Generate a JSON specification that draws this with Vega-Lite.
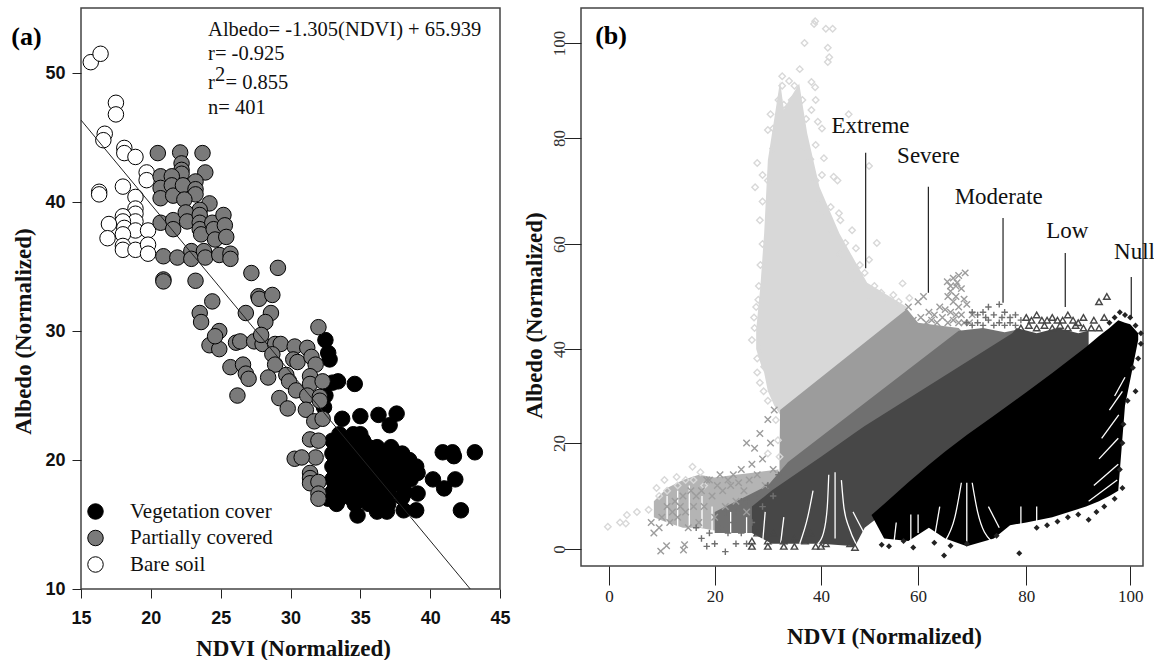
{"$schema":"https://vega.github.io/schema/vega-lite/v6.json","background":"white","padding":{"left":10,"top":7,"right":0,"bottom":0},"bounds":"flush","spacing":81,"config":{"view":{"stroke":"#444","strokeWidth":1.5},"axis":{"grid":false,"domain":false,"tickColor":"#222"}},"datasets":{"pa":[
{"c":"Bare soil","x":15.7,"y":50.85},{"c":"Bare soil","x":16.4,"y":51.5},{"c":"Bare soil","x":17.5,"y":47.7},{"c":"Bare soil","x":17.5,"y":46.8},{"c":"Bare soil","x":16.7,"y":45.3},{"c":"Bare soil","x":16.6,"y":44.8},{"c":"Bare soil","x":18.1,"y":44.2},{"c":"Bare soil","x":18.1,"y":43.8},{"c":"Bare soil","x":18.9,"y":43.5},{"c":"Bare soil","x":19.7,"y":42.3},{"c":"Bare soil","x":19.7,"y":41.7},{"c":"Bare soil","x":18.0,"y":41.2},{"c":"Bare soil","x":18.9,"y":40.4},{"c":"Bare soil","x":16.3,"y":40.8},{"c":"Bare soil","x":16.3,"y":40.6},{"c":"Bare soil","x":18.9,"y":39.5},{"c":"Bare soil","x":18.9,"y":39.1},{"c":"Bare soil","x":18.0,"y":38.9},{"c":"Bare soil","x":18.9,"y":38.5},{"c":"Bare soil","x":18.0,"y":38.5},{"c":"Bare soil","x":18.1,"y":38.0},{"c":"Bare soil","x":18.9,"y":37.8},{"c":"Bare soil","x":17.0,"y":38.3},{"c":"Bare soil","x":16.9,"y":37.2},{"c":"Bare soil","x":18.0,"y":37.5},{"c":"Bare soil","x":18.0,"y":36.6},{"c":"Bare soil","x":18.0,"y":36.3},{"c":"Bare soil","x":18.9,"y":36.3},{"c":"Bare soil","x":19.8,"y":37.8},{"c":"Bare soil","x":19.8,"y":36.7},{"c":"Bare soil","x":19.8,"y":36},
{"c":"Vegetation cover","x":32.5,"y":29.3},{"c":"Vegetation cover","x":32.8,"y":27.8},{"c":"Vegetation cover","x":32.7,"y":28.3},{"c":"Vegetation cover","x":33.4,"y":26.1},{"c":"Vegetation cover","x":33,"y":26},{"c":"Vegetation cover","x":34.6,"y":25.9},{"c":"Vegetation cover","x":32.4,"y":24.1},{"c":"Vegetation cover","x":32.5,"y":25},{"c":"Vegetation cover","x":33.7,"y":23.2},{"c":"Vegetation cover","x":35,"y":23.4},{"c":"Vegetation cover","x":36.3,"y":23.5},{"c":"Vegetation cover","x":37.6,"y":23.6},{"c":"Vegetation cover","x":37.1,"y":22.7},{"c":"Vegetation cover","x":40.9,"y":20.6},{"c":"Vegetation cover","x":41.6,"y":20.6},{"c":"Vegetation cover","x":41.7,"y":20.3},{"c":"Vegetation cover","x":43.2,"y":20.6},{"c":"Vegetation cover","x":40.2,"y":18.5},{"c":"Vegetation cover","x":41,"y":17.8},{"c":"Vegetation cover","x":41.8,"y":18.5},{"c":"Vegetation cover","x":42.2,"y":16.1},{"c":"Vegetation cover","x":34.8,"y":15.7},{"c":"Vegetation cover","x":36.2,"y":16},{"c":"Vegetation cover","x":36.9,"y":16},{"c":"Vegetation cover","x":38.1,"y":16.1},{"c":"Vegetation cover","x":39,"y":16.1},{"c":"Vegetation cover","x":39.1,"y":17.4},{"c":"Vegetation cover","x":38,"y":17.1},{"c":"Vegetation cover","x":33.3,"y":16.7},{"c":"Vegetation cover","x":32.7,"y":17},
{"c":"Vegetation cover","x":33.5,"y":22},{"c":"Vegetation cover","x":34.5,"y":22},{"c":"Vegetation cover","x":35,"y":22},{"c":"Vegetation cover","x":33,"y":21.5},{"c":"Vegetation cover","x":33.8,"y":21.5},{"c":"Vegetation cover","x":34.5,"y":21.5},{"c":"Vegetation cover","x":35.2,"y":21.5},{"c":"Vegetation cover","x":33.7,"y":21},{"c":"Vegetation cover","x":34.4,"y":21},{"c":"Vegetation cover","x":35,"y":21},{"c":"Vegetation cover","x":35.6,"y":21},{"c":"Vegetation cover","x":36.2,"y":21},{"c":"Vegetation cover","x":37.2,"y":21},{"c":"Vegetation cover","x":33,"y":20.5},{"c":"Vegetation cover","x":33.8,"y":20.5},{"c":"Vegetation cover","x":34.6,"y":20.5},{"c":"Vegetation cover","x":35.4,"y":20.5},{"c":"Vegetation cover","x":36.2,"y":20.5},{"c":"Vegetation cover","x":37,"y":20.5},{"c":"Vegetation cover","x":37.6,"y":20.5},{"c":"Vegetation cover","x":38,"y":20.5},{"c":"Vegetation cover","x":33.2,"y":20},{"c":"Vegetation cover","x":34,"y":20},{"c":"Vegetation cover","x":34.8,"y":20},{"c":"Vegetation cover","x":35.6,"y":20},{"c":"Vegetation cover","x":36.4,"y":20},{"c":"Vegetation cover","x":37.2,"y":20},{"c":"Vegetation cover","x":38,"y":20},{"c":"Vegetation cover","x":38.5,"y":20},{"c":"Vegetation cover","x":33,"y":19.5},{"c":"Vegetation cover","x":33.8,"y":19.5},{"c":"Vegetation cover","x":34.6,"y":19.5},{"c":"Vegetation cover","x":35.4,"y":19.5},{"c":"Vegetation cover","x":36.2,"y":19.5},{"c":"Vegetation cover","x":37,"y":19.5},{"c":"Vegetation cover","x":37.8,"y":19.5},{"c":"Vegetation cover","x":38.6,"y":19.5},{"c":"Vegetation cover","x":39,"y":19.5},{"c":"Vegetation cover","x":33.2,"y":19},{"c":"Vegetation cover","x":34,"y":19},{"c":"Vegetation cover","x":34.8,"y":19},{"c":"Vegetation cover","x":35.6,"y":19},{"c":"Vegetation cover","x":36.4,"y":19},{"c":"Vegetation cover","x":37.2,"y":19},{"c":"Vegetation cover","x":38,"y":19},{"c":"Vegetation cover","x":38.8,"y":19},{"c":"Vegetation cover","x":39.1,"y":19},{"c":"Vegetation cover","x":33,"y":18.5},{"c":"Vegetation cover","x":33.8,"y":18.5},{"c":"Vegetation cover","x":34.6,"y":18.5},{"c":"Vegetation cover","x":35.4,"y":18.5},{"c":"Vegetation cover","x":36.2,"y":18.5},{"c":"Vegetation cover","x":37,"y":18.5},{"c":"Vegetation cover","x":37.8,"y":18.5},{"c":"Vegetation cover","x":38.6,"y":18.5},{"c":"Vegetation cover","x":33.2,"y":18},{"c":"Vegetation cover","x":34,"y":18},{"c":"Vegetation cover","x":34.8,"y":18},{"c":"Vegetation cover","x":35.6,"y":18},{"c":"Vegetation cover","x":36.4,"y":18},{"c":"Vegetation cover","x":37.2,"y":18},{"c":"Vegetation cover","x":38,"y":18},{"c":"Vegetation cover","x":33,"y":17.5},{"c":"Vegetation cover","x":33.8,"y":17.5},{"c":"Vegetation cover","x":34.6,"y":17.5},{"c":"Vegetation cover","x":35.4,"y":17.5},{"c":"Vegetation cover","x":36.2,"y":17.5},{"c":"Vegetation cover","x":37,"y":17.5},{"c":"Vegetation cover","x":38.2,"y":17.5},{"c":"Vegetation cover","x":33.5,"y":17},{"c":"Vegetation cover","x":34.4,"y":17},{"c":"Vegetation cover","x":35.2,"y":17},{"c":"Vegetation cover","x":36,"y":17},{"c":"Vegetation cover","x":36.8,"y":17},{"c":"Vegetation cover","x":33.3,"y":16.6},{"c":"Vegetation cover","x":34.6,"y":16.6},{"c":"Vegetation cover","x":35.6,"y":16.6},{"c":"Vegetation cover","x":36.4,"y":16.6},{"c":"Vegetation cover","x":37,"y":16.6},
{"c":"Partially covered","x":20.5,"y":43.8},{"c":"Partially covered","x":22.1,"y":43.85},{"c":"Partially covered","x":23.7,"y":43.8},{"c":"Partially covered","x":22.2,"y":43},{"c":"Partially covered","x":22.2,"y":42.5},{"c":"Partially covered","x":22.2,"y":42.2},{"c":"Partially covered","x":23.9,"y":42.3},{"c":"Partially covered","x":20.7,"y":42},{"c":"Partially covered","x":21.5,"y":42},{"c":"Partially covered","x":23.2,"y":41.6},{"c":"Partially covered","x":20.7,"y":41.1},{"c":"Partially covered","x":20.7,"y":40.3},{"c":"Partially covered","x":21.5,"y":41.3},{"c":"Partially covered","x":21.6,"y":40.5},{"c":"Partially covered","x":22.3,"y":41.3},{"c":"Partially covered","x":23.2,"y":41},{"c":"Partially covered","x":23.2,"y":40.6},{"c":"Partially covered","x":22.4,"y":40.2},{"c":"Partially covered","x":24.2,"y":39.9},{"c":"Partially covered","x":23.5,"y":39.4},{"c":"Partially covered","x":20.7,"y":38.4},{"c":"Partially covered","x":21.6,"y":38.6},{"c":"Partially covered","x":21.6,"y":37.9},{"c":"Partially covered","x":22.5,"y":39.2},{"c":"Partially covered","x":22.6,"y":38.5},{"c":"Partially covered","x":23.5,"y":39},{"c":"Partially covered","x":23.5,"y":38.4},{"c":"Partially covered","x":23.5,"y":37.9},{"c":"Partially covered","x":23.6,"y":37.5},{"c":"Partially covered","x":24.4,"y":38.4},{"c":"Partially covered","x":24.5,"y":37.9},{"c":"Partially covered","x":24.6,"y":37.1},{"c":"Partially covered","x":25.2,"y":39},{"c":"Partially covered","x":25.3,"y":38.2},{"c":"Partially covered","x":25.4,"y":37.3},{"c":"Partially covered","x":20.9,"y":35.8},{"c":"Partially covered","x":21.9,"y":35.7},{"c":"Partially covered","x":22.9,"y":36.2},{"c":"Partially covered","x":22.9,"y":35.6},{"c":"Partially covered","x":23.8,"y":36.2},{"c":"Partially covered","x":23.9,"y":35.7},{"c":"Partially covered","x":24.9,"y":35.9},{"c":"Partially covered","x":25.7,"y":36},{"c":"Partially covered","x":25.7,"y":35.6},{"c":"Partially covered","x":20.9,"y":34},{"c":"Partially covered","x":20.9,"y":33.85},{"c":"Partially covered","x":23.2,"y":33.9},{"c":"Partially covered","x":27.2,"y":34.5},{"c":"Partially covered","x":29.1,"y":34.9},{"c":"Partially covered","x":24.4,"y":32.3},{"c":"Partially covered","x":23.5,"y":31.4},{"c":"Partially covered","x":23.6,"y":30.7},{"c":"Partially covered","x":26.8,"y":31.4},{"c":"Partially covered","x":27.7,"y":32.7},{"c":"Partially covered","x":27.75,"y":32.5},{"c":"Partially covered","x":28.7,"y":32.8},{"c":"Partially covered","x":28.6,"y":31.4},{"c":"Partially covered","x":28.2,"y":30.7},{"c":"Partially covered","x":32,"y":30.3},{"c":"Partially covered","x":24.9,"y":30},{"c":"Partially covered","x":24.2,"y":28.9},{"c":"Partially covered","x":24.9,"y":28.6},{"c":"Partially covered","x":24.6,"y":29.6},{"c":"Partially covered","x":26.1,"y":29.1},{"c":"Partially covered","x":26.4,"y":29.2},{"c":"Partially covered","x":27.4,"y":29.2},{"c":"Partially covered","x":28,"y":29},{"c":"Partially covered","x":27.9,"y":29.7},{"c":"Partially covered","x":28.9,"y":29},{"c":"Partially covered","x":29.3,"y":29},{"c":"Partially covered","x":28.7,"y":28.2},{"c":"Partially covered","x":28.9,"y":27.4},{"c":"Partially covered","x":30.3,"y":28.8},{"c":"Partially covered","x":30.2,"y":27.8},{"c":"Partially covered","x":30.5,"y":27.6},{"c":"Partially covered","x":31.2,"y":28.7},{"c":"Partially covered","x":31.5,"y":28},{"c":"Partially covered","x":31.8,"y":27.4},{"c":"Partially covered","x":25.7,"y":27.2},{"c":"Partially covered","x":26.6,"y":27.4},{"c":"Partially covered","x":26.8,"y":26.7},{"c":"Partially covered","x":27,"y":26.3},{"c":"Partially covered","x":28.4,"y":26.4},{"c":"Partially covered","x":29.7,"y":26.6},{"c":"Partially covered","x":29.9,"y":26.1},{"c":"Partially covered","x":30.4,"y":25.4},{"c":"Partially covered","x":31.4,"y":26.5},{"c":"Partially covered","x":31.4,"y":25.9},{"c":"Partially covered","x":32.3,"y":26.1},{"c":"Partially covered","x":31.2,"y":25},{"c":"Partially covered","x":32.1,"y":24.9},{"c":"Partially covered","x":32.1,"y":24.6},{"c":"Partially covered","x":29.2,"y":24.8},{"c":"Partially covered","x":29.8,"y":24},{"c":"Partially covered","x":31.1,"y":23.9},{"c":"Partially covered","x":26.2,"y":25},{"c":"Partially covered","x":31.7,"y":23},{"c":"Partially covered","x":32.3,"y":23.2},{"c":"Partially covered","x":31.4,"y":21.6},{"c":"Partially covered","x":32,"y":21.5},{"c":"Partially covered","x":31.8,"y":20.2},{"c":"Partially covered","x":30.3,"y":20.1},{"c":"Partially covered","x":30.8,"y":20.2},{"c":"Partially covered","x":31.4,"y":19},{"c":"Partially covered","x":31.4,"y":18.6},{"c":"Partially covered","x":31.4,"y":18.2},{"c":"Partially covered","x":32,"y":18.3},{"c":"Partially covered","x":32,"y":17.4},{"c":"Partially covered","x":32,"y":17}
],"bands":[
{"c":"Tail","x":8.5,"y":9,"y2":6},{"c":"Tail","x":11,"y":11.5,"y2":5},{"c":"Tail","x":14,"y":13,"y2":4},{"c":"Tail","x":17,"y":14,"y2":4},{"c":"Tail","x":20,"y":13.5,"y2":3.5},{"c":"Tail","x":24,"y":14,"y2":4},{"c":"Tail","x":28,"y":14.5,"y2":4},{"c":"Tail","x":32,"y":15,"y2":5},
{"c":"Extreme","x":27.8,"y":43.6,"y2":40},{"c":"Extreme","x":28.6,"y":52,"y2":37},{"c":"Extreme","x":29.3,"y":62,"y2":35},{"c":"Extreme","x":30,"y":75.8,"y2":31},{"c":"Extreme","x":31.2,"y":84,"y2":28},{"c":"Extreme","x":32.3,"y":92,"y2":26},{"c":"Extreme","x":33,"y":86,"y2":25},{"c":"Extreme","x":34,"y":88,"y2":25},{"c":"Extreme","x":35.9,"y":91.5,"y2":27},{"c":"Extreme","x":37.4,"y":81,"y2":28},{"c":"Extreme","x":39.7,"y":70.8,"y2":30},{"c":"Extreme","x":43.8,"y":62,"y2":33},{"c":"Extreme","x":49.5,"y":52.6,"y2":38},{"c":"Extreme","x":57.7,"y":48,"y2":44},
{"c":"Severe","x":32.2,"y":18,"y2":8},{"c":"Severe","x":32.3,"y":27,"y2":8},{"c":"Severe","x":57.7,"y":47.6,"y2":25},{"c":"Severe","x":60,"y":45,"y2":28},{"c":"Severe","x":67.5,"y":44,"y2":35},{"c":"Severe","x":68,"y":43.5,"y2":40},
{"c":"Moderate","x":20,"y":7,"y2":3},{"c":"Moderate","x":25,"y":9.5,"y2":3},{"c":"Moderate","x":30,"y":12,"y2":3},{"c":"Moderate","x":33.8,"y":16.4,"y2":3},{"c":"Moderate","x":66,"y":42.3,"y2":25},{"c":"Moderate","x":67.5,"y":43.5,"y2":28},{"c":"Moderate","x":72,"y":44,"y2":36},{"c":"Moderate","x":76,"y":43.2,"y2":40},{"c":"Moderate","x":79,"y":43.8,"y2":42},
{"c":"Low","x":27,"y":8,"y2":3},{"c":"Low","x":30.8,"y":11.1,"y2":1},{"c":"Low","x":40,"y":17.4,"y2":1},{"c":"Low","x":47,"y":22.2,"y2":0.5},{"c":"Low","x":49,"y":23.6,"y2":4},{"c":"Low","x":50.4,"y":24.5,"y2":5},{"c":"Low","x":77.4,"y":43,"y2":26},{"c":"Low","x":78.2,"y":44,"y2":27},{"c":"Low","x":82,"y":43,"y2":30},{"c":"Low","x":86,"y":44,"y2":33},{"c":"Low","x":90,"y":43,"y2":36},{"c":"Low","x":92,"y":43.5,"y2":38},
{"c":"Null","x":50.4,"y":6.4,"y2":6.4},{"c":"Null","x":53,"y":8.5,"y2":2},{"c":"Null","x":58,"y":12.6,"y2":1.5},{"c":"Null","x":62,"y":15.9,"y2":4},{"c":"Null","x":65,"y":18.4,"y2":2},{"c":"Null","x":69,"y":21.7,"y2":0.5},{"c":"Null","x":74,"y":25.8,"y2":2},{"c":"Null","x":77,"y":28.3,"y2":4.5},{"c":"Null","x":80,"y":30.8,"y2":5},{"c":"Null","x":85,"y":34.9,"y2":6},{"c":"Null","x":91.5,"y":40.4,"y2":8},{"c":"Null","x":94,"y":42.5,"y2":9},{"c":"Null","x":96,"y":44,"y2":10},{"c":"Null","x":97.7,"y":45.5,"y2":11},{"c":"Null","x":99,"y":45,"y2":28},{"c":"Null","x":100,"y":44.7,"y2":33.4},{"c":"Null","x":101.5,"y":43,"y2":41.7}
],"gaps":[
{"g":"a1","x":42.9,"y":14.5},{"g":"a1","x":42.9,"y":2},{"g":"a2","x":41.6,"y":14},{"g":"a2","x":41.3,"y":8},{"g":"a2","x":40.5,"y":3},{"g":"a2","x":39.4,"y":1},{"g":"a3","x":44.2,"y":13},{"g":"a3","x":44.7,"y":8},{"g":"a3","x":45.8,"y":4},{"g":"a3","x":47.2,"y":1},{"g":"a4","x":38.5,"y":11},{"g":"a4","x":37.5,"y":6},{"g":"a4","x":36,"y":1},{"g":"a5","x":46.6,"y":7},{"g":"a5","x":48.6,"y":3.5},{"g":"a5","x":50.5,"y":0.5},
{"g":"a6","x":33,"y":6},{"g":"a6","x":32.4,"y":1},{"g":"a7","x":29.5,"y":7},{"g":"a7","x":29,"y":1},
{"g":"b1","x":69,"y":12.5},{"g":"b1","x":69,"y":1},{"g":"b2","x":68,"y":12.5},{"g":"b2","x":66.8,"y":6},{"g":"b2","x":65,"y":1.5},{"g":"b3","x":70,"y":12.5},{"g":"b3","x":71,"y":7},{"g":"b3","x":73.5,"y":1.5},{"g":"b4","x":64,"y":8},{"g":"b4","x":63,"y":2},{"g":"b5","x":73,"y":8},{"g":"b5","x":75,"y":4},
{"g":"c1","x":58.5,"y":6.5},{"g":"c1","x":58.5,"y":1},{"g":"c2","x":60,"y":6.5},{"g":"c2","x":60,"y":3},{"g":"c3","x":55.5,"y":5},{"g":"c3","x":55,"y":1},{"g":"c4","x":79,"y":8},{"g":"c4","x":79,"y":4},{"g":"c5","x":82,"y":8},{"g":"c5","x":82,"y":5},
{"g":"d1","x":92,"y":9},{"g":"d1","x":97.5,"y":13},{"g":"d2","x":93,"y":12},{"g":"d2","x":97.7,"y":16},{"g":"d3","x":94,"y":17},{"g":"d3","x":97.7,"y":21},{"g":"d4","x":94.5,"y":21},{"g":"d4","x":97.8,"y":26},{"g":"d5","x":96,"y":27},{"g":"d5","x":98.5,"y":31},{"g":"d6","x":97,"y":30},{"g":"d6","x":99,"y":34},
{"g":"t1","x":11,"y":10},{"g":"t1","x":11,"y":4},{"g":"t2","x":13,"y":11},{"g":"t2","x":13,"y":4},{"g":"t3","x":15.2,"y":12},{"g":"t3","x":15.2,"y":4},{"g":"t4","x":17.6,"y":10},{"g":"t4","x":17.6,"y":4},{"g":"t5","x":19.5,"y":8},{"g":"t5","x":19.5,"y":3},{"g":"t6","x":23,"y":7},{"g":"t6","x":23,"y":3},{"g":"t7","x":26,"y":6},{"g":"t7","x":26,"y":3}
],"pb":[
{"c":"Extreme","x":38.9,"y":104.6},{"c":"Extreme","x":38.7,"y":104},{"c":"Extreme","x":41,"y":103},{"c":"Extreme","x":42.4,"y":103},{"c":"Extreme","x":36.9,"y":100},{"c":"Extreme","x":41.4,"y":99},{"c":"Extreme","x":41.7,"y":97},{"c":"Extreme","x":41.4,"y":96},{"c":"Extreme","x":32.7,"y":93},{"c":"Extreme","x":32.7,"y":91},{"c":"Extreme","x":36,"y":94.5},{"c":"Extreme","x":38.2,"y":91.8},{"c":"Extreme","x":38.9,"y":90.7},{"c":"Extreme","x":39,"y":88},{"c":"Extreme","x":38.2,"y":85.9},{"c":"Extreme","x":45.7,"y":85},{"c":"Extreme","x":39.4,"y":83.4},{"c":"Extreme","x":40.2,"y":82},{"c":"Extreme","x":39,"y":78.7},{"c":"Extreme","x":40.6,"y":76.2},{"c":"Extreme","x":49.9,"y":74.7},{"c":"Extreme","x":42.6,"y":72.7},{"c":"Extreme","x":43.4,"y":72},{"c":"Extreme","x":40.2,"y":73},{"c":"Extreme","x":27.6,"y":70.7},{"c":"Extreme","x":28,"y":75.3},{"c":"Extreme","x":30,"y":81.7},{"c":"Extreme","x":31,"y":82},{"c":"Extreme","x":43.7,"y":65.8},{"c":"Extreme","x":44,"y":64.5},{"c":"Extreme","x":46.4,"y":62.6},{"c":"Extreme","x":51.5,"y":60.2},{"c":"Extreme","x":47.2,"y":59.2},{"c":"Extreme","x":45,"y":60.2},{"c":"Extreme","x":49.9,"y":57},{"c":"Extreme","x":49,"y":54.5},{"c":"Extreme","x":56.8,"y":52.5},{"c":"Extreme","x":52.4,"y":50.7},{"c":"Extreme","x":54.9,"y":50.3},{"c":"Extreme","x":58.2,"y":49.7},{"c":"Extreme","x":28.5,"y":64.5},{"c":"Extreme","x":29,"y":60},{"c":"Extreme","x":28.2,"y":49.4},{"c":"Extreme","x":27.4,"y":46},{"c":"Extreme","x":28.3,"y":52},{"c":"Extreme","x":27,"y":41.7},{"c":"Extreme","x":29.3,"y":36.2},{"c":"Extreme","x":28.5,"y":32.8},{"c":"Extreme","x":30,"y":29},{"c":"Extreme","x":31.5,"y":24.9},{"c":"Extreme","x":31.9,"y":20.6},{"c":"Extreme","x":30,"y":18},{"c":"Extreme","x":32.2,"y":17.4},{"c":"Extreme","x":29,"y":68},{"c":"Extreme","x":30,"y":72},{"c":"Extreme","x":31,"y":78},{"c":"Extreme","x":33,"y":87},{"c":"Extreme","x":34.5,"y":88},{"c":"Extreme","x":36.5,"y":88},{"c":"Extreme","x":37.2,"y":84},{"c":"Extreme","x":28.8,"y":40},{"c":"Extreme","x":28,"y":38},{"c":"Extreme","x":28.6,"y":56},{"c":"Extreme","x":42,"y":67},{"c":"Extreme","x":48,"y":56},{"c":"Extreme","x":51,"y":52},{"c":"Extreme","x":-0.2,"y":4.2},{"c":"Extreme","x":2.1,"y":5},{"c":"Extreme","x":3.4,"y":6.4},{"c":"Extreme","x":3.2,"y":4.8},{"c":"Extreme","x":5.3,"y":7},{"c":"Extreme","x":7.5,"y":7.4},{"c":"Extreme","x":9,"y":11.5},{"c":"Extreme","x":10.5,"y":13},{"c":"Extreme","x":12.8,"y":13.6},{"c":"Extreme","x":15.8,"y":15.5},{"c":"Extreme","x":17.3,"y":14.5},{"c":"Extreme","x":9.5,"y":10},{"c":"Extreme","x":11,"y":11},{"c":"Extreme","x":13,"y":12},{"c":"Extreme","x":14.5,"y":13},{"c":"Extreme","x":16,"y":13},{"c":"Extreme","x":18,"y":12},{"c":"Extreme","x":27.5,"y":44},{"c":"Extreme","x":27.8,"y":48},{"c":"Extreme","x":28,"y":35},{"c":"Extreme","x":29.2,"y":31},{"c":"Extreme","x":29,"y":73},{"c":"Extreme","x":30.5,"y":85},{"c":"Extreme","x":32,"y":88},{"c":"Extreme","x":34,"y":92},{"c":"Extreme","x":35,"y":91},{"c":"Extreme","x":37,"y":78},{"c":"Extreme","x":38,"y":76},{"c":"Extreme","x":39,"y":72},{"c":"Extreme","x":40,"y":68},{"c":"Extreme","x":41,"y":66},{"c":"Extreme","x":42,"y":62},{"c":"Extreme","x":44,"y":58},{"c":"Extreme","x":46,"y":55},{"c":"Extreme","x":47,"y":53},{"c":"Extreme","x":50,"y":50},{"c":"Extreme","x":53,"y":49},{"c":"Extreme","x":56,"y":49},
{"c":"Severe","x":9.8,"y":-0.4},{"c":"Severe","x":10.9,"y":0.6},{"c":"Severe","x":14.3,"y":0.8},{"c":"Severe","x":14.1,"y":-0.2},{"c":"Severe","x":8,"y":5},{"c":"Severe","x":9.5,"y":4},{"c":"Severe","x":10,"y":6},{"c":"Severe","x":11,"y":8},{"c":"Severe","x":11.5,"y":5},{"c":"Severe","x":12.5,"y":9},{"c":"Severe","x":13,"y":6},{"c":"Severe","x":14,"y":10},{"c":"Severe","x":14.5,"y":7},{"c":"Severe","x":15,"y":4},{"c":"Severe","x":15.5,"y":11},{"c":"Severe","x":16,"y":8},{"c":"Severe","x":17,"y":5},{"c":"Severe","x":17.5,"y":11},{"c":"Severe","x":18,"y":8},{"c":"Severe","x":19,"y":13},{"c":"Severe","x":19.5,"y":10},{"c":"Severe","x":20,"y":6},{"c":"Severe","x":21,"y":14},{"c":"Severe","x":21.5,"y":11},{"c":"Severe","x":22,"y":8},{"c":"Severe","x":23,"y":12},{"c":"Severe","x":23.5,"y":14},{"c":"Severe","x":24,"y":9},{"c":"Severe","x":25,"y":15},{"c":"Severe","x":25.5,"y":11},{"c":"Severe","x":26,"y":7},{"c":"Severe","x":26.5,"y":13},{"c":"Severe","x":27,"y":16},{"c":"Severe","x":27.5,"y":19},{"c":"Severe","x":28,"y":14},{"c":"Severe","x":28.5,"y":22},{"c":"Severe","x":29,"y":17},{"c":"Severe","x":29.5,"y":12},{"c":"Severe","x":30,"y":25},{"c":"Severe","x":30.5,"y":20},{"c":"Severe","x":31,"y":15},{"c":"Severe","x":31.2,"y":27},{"c":"Severe","x":26,"y":20},{"c":"Severe","x":24.5,"y":12.5},{"c":"Severe","x":22.5,"y":13},{"c":"Severe","x":20.5,"y":12},{"c":"Severe","x":18.5,"y":13},{"c":"Severe","x":16.5,"y":10},{"c":"Severe","x":13.5,"y":8},{"c":"Severe","x":12,"y":7},{"c":"Severe","x":8.5,"y":3},{"c":"Severe","x":60,"y":49},{"c":"Severe","x":58,"y":48},{"c":"Severe","x":61,"y":50},{"c":"Severe","x":62,"y":47},{"c":"Severe","x":64,"y":48},{"c":"Severe","x":66,"y":47},{"c":"Severe","x":68,"y":46.5},{"c":"Severe","x":70,"y":46.5},{"c":"Severe","x":67.2,"y":52.6},{"c":"Severe","x":68.7,"y":54.5},{"c":"Severe","x":65.4,"y":52.8},{"c":"Severe","x":66,"y":51},{"c":"Severe","x":67,"y":50},{"c":"Severe","x":68,"y":51.5},{"c":"Severe","x":66.5,"y":53.5},{"c":"Severe","x":67.5,"y":54},{"c":"Severe","x":65.5,"y":50},{"c":"Severe","x":68.5,"y":49.5},{"c":"Severe","x":66.5,"y":49},{"c":"Severe","x":67.5,"y":48},{"c":"Severe","x":69,"y":48.5},{"c":"Severe","x":66,"y":52},{"c":"Severe","x":67,"y":52},{"c":"Severe","x":59,"y":45.5},{"c":"Severe","x":60.5,"y":46},{"c":"Severe","x":61.5,"y":45},{"c":"Severe","x":62.5,"y":45.5},{"c":"Severe","x":63.5,"y":45},{"c":"Severe","x":64.5,"y":46},{"c":"Severe","x":65.5,"y":45},{"c":"Severe","x":66.5,"y":45.5},{"c":"Severe","x":67.5,"y":45},{"c":"Severe","x":68.5,"y":45},{"c":"Severe","x":69.5,"y":45},{"c":"Severe","x":65,"y":47.5},{"c":"Severe","x":67,"y":46.5},{"c":"Severe","x":63,"y":46.5},
{"c":"Moderate","x":16.5,"y":4},{"c":"Moderate","x":17.5,"y":2},{"c":"Moderate","x":18.5,"y":0.5},{"c":"Moderate","x":19,"y":3},{"c":"Moderate","x":20,"y":1},{"c":"Moderate","x":21,"y":4},{"c":"Moderate","x":22,"y":-0.5},{"c":"Moderate","x":22.5,"y":3},{"c":"Moderate","x":23.5,"y":5},{"c":"Moderate","x":24,"y":1},{"c":"Moderate","x":25,"y":3},{"c":"Moderate","x":26,"y":1},{"c":"Moderate","x":27,"y":5},{"c":"Moderate","x":22,"y":7},{"c":"Moderate","x":24,"y":7},{"c":"Moderate","x":25,"y":9},{"c":"Moderate","x":26,"y":9},{"c":"Moderate","x":28,"y":10},{"c":"Moderate","x":29,"y":8},{"c":"Moderate","x":30,"y":12},{"c":"Moderate","x":31,"y":10},{"c":"Moderate","x":32,"y":14},{"c":"Moderate","x":70,"y":47},{"c":"Moderate","x":72,"y":47},{"c":"Moderate","x":73,"y":48},{"c":"Moderate","x":75,"y":48.5},{"c":"Moderate","x":74,"y":46.5},{"c":"Moderate","x":76,"y":47},{"c":"Moderate","x":78,"y":46.5},{"c":"Moderate","x":71,"y":46.5},{"c":"Moderate","x":79,"y":45.5},{"c":"Moderate","x":77,"y":46},{"c":"Moderate","x":69,"y":45},{"c":"Moderate","x":70,"y":44.5},{"c":"Moderate","x":71,"y":45},{"c":"Moderate","x":72,"y":44.5},{"c":"Moderate","x":73,"y":45.5},{"c":"Moderate","x":74,"y":44.5},{"c":"Moderate","x":75,"y":45},{"c":"Moderate","x":76,"y":44.5},{"c":"Moderate","x":77,"y":45},{"c":"Moderate","x":78,"y":44.5},{"c":"Moderate","x":72.5,"y":46},{"c":"Moderate","x":75.5,"y":46},
{"c":"Low","x":27,"y":0.5},{"c":"Low","x":27,"y":1.5},{"c":"Low","x":28,"y":3},{"c":"Low","x":30,"y":0.5},{"c":"Low","x":30,"y":1.5},{"c":"Low","x":31,"y":3},{"c":"Low","x":33,"y":0.5},{"c":"Low","x":33,"y":1.5},{"c":"Low","x":35,"y":0.5},{"c":"Low","x":35,"y":2},{"c":"Low","x":37,"y":1.5},{"c":"Low","x":38,"y":3},{"c":"Low","x":39,"y":0.5},{"c":"Low","x":40,"y":0.5},{"c":"Low","x":41,"y":1},{"c":"Low","x":46,"y":1},{"c":"Low","x":47,"y":0.3},{"c":"Low","x":80,"y":46},{"c":"Low","x":82,"y":46.5},{"c":"Low","x":83,"y":45.5},{"c":"Low","x":85,"y":46},{"c":"Low","x":86,"y":45.5},{"c":"Low","x":88,"y":46.5},{"c":"Low","x":89,"y":45.5},{"c":"Low","x":91,"y":46},{"c":"Low","x":93,"y":45.5},{"c":"Low","x":94,"y":49},{"c":"Low","x":95.5,"y":50},{"c":"Low","x":95,"y":46},{"c":"Low","x":79,"y":44},{"c":"Low","x":80.5,"y":44.5},{"c":"Low","x":82,"y":44},{"c":"Low","x":83.5,"y":44.5},{"c":"Low","x":85,"y":44},{"c":"Low","x":86.5,"y":44.5},{"c":"Low","x":88,"y":44},{"c":"Low","x":89.5,"y":44.5},{"c":"Low","x":91,"y":44},{"c":"Low","x":92.5,"y":44},{"c":"Low","x":94,"y":44},{"c":"Low","x":81,"y":45.5},{"c":"Low","x":84,"y":45.5},{"c":"Low","x":87,"y":45.5},{"c":"Low","x":90,"y":45},
{"c":"Null","x":52.5,"y":0.8},{"c":"Null","x":54,"y":0.5},{"c":"Null","x":57,"y":1.5},{"c":"Null","x":59,"y":0.3},{"c":"Null","x":63,"y":1.2},{"c":"Null","x":64.8,"y":-1.2},{"c":"Null","x":66,"y":0.6},{"c":"Null","x":69,"y":1},{"c":"Null","x":74.5,"y":2.5},{"c":"Null","x":78.7,"y":-0.8},{"c":"Null","x":82,"y":4},{"c":"Null","x":84,"y":4.5},{"c":"Null","x":86,"y":5.2},{"c":"Null","x":88,"y":6},{"c":"Null","x":90,"y":6.5},{"c":"Null","x":92,"y":5.5},{"c":"Null","x":93.5,"y":7},{"c":"Null","x":95,"y":8},{"c":"Null","x":97,"y":9.5},{"c":"Null","x":98.5,"y":11.5},{"c":"Null","x":98,"y":15},{"c":"Null","x":98.5,"y":20},{"c":"Null","x":98.7,"y":24},{"c":"Null","x":99.5,"y":29},{"c":"Null","x":101,"y":31},{"c":"Null","x":100.5,"y":36},{"c":"Null","x":101.5,"y":38},{"c":"Null","x":102,"y":41},{"c":"Null","x":97,"y":46},{"c":"Null","x":98,"y":47},{"c":"Null","x":99,"y":46.5},{"c":"Null","x":100,"y":46},{"c":"Null","x":96,"y":45},{"c":"Null","x":101,"y":44.5},{"c":"Null","x":102,"y":43}
],"notesA":[
{"x":24.1,"y":53.35,"t":"Albedo= -1.305(NDVI) + 65.939"},{"x":24.1,"y":51.5,"t":"r= -0.925"},{"x":24.1,"y":49.2,"t":"r"},{"x":24.6,"y":49.85,"t":"2"},{"x":25.35,"y":49.2,"t":"= 0.855"},{"x":24.1,"y":47.3,"t":"n= 401"}
],"labelsB":[
{"x":50.2,"y":82.5,"t":"Extreme"},{"x":61.9,"y":76.6,"t":"Severe"},{"x":74.9,"y":68.9,"t":"Moderate"},{"x":87.9,"y":62.4,"t":"Low"},{"x":100.8,"y":58.5,"t":"Null"}
],"leaders":[
{"x":49.2,"y":77.2,"y2":55.4},{"x":61.9,"y":70.8,"y2":50.7},{"x":75.7,"y":64.9,"y2":48.8},{"x":87.5,"y":58.3,"y2":48},{"x":100.2,"y":53.7,"y2":46.1}
]},
"hconcat":[
{"width":419,"height":581,"layer":[
{"data":{"name":"pa"},"mark":{"type":"point","filled":true,"stroke":"#000","strokeWidth":1,"opacity":1,"size":240},"encoding":{"x":{"field":"x","type":"quantitative","scale":{"domain":[15,45],"nice":false,"zero":false},"axis":{"values":[15,20,25,30,35,40,45],"title":"NDVI (Normalized)","titleFont":"Liberation Serif","titleFontSize":23,"titleFontWeight":"bold","titleColor":"#111","titleX":212,"titleY":48,"labelFont":"Liberation Sans","labelFontSize":18,"labelFontWeight":"bold","labelColor":"#111","labelPadding":11,"tickSize":9,"labelFlush":false}},"y":{"field":"y","type":"quantitative","scale":{"domain":[10,55.05],"nice":false,"zero":false},"axis":{"values":[10,20,30,40,50],"title":"Albedo (Normalized)","titleFont":"Liberation Serif","titleFontSize":23,"titleFontWeight":"bold","titleColor":"#111","titleX":-46,"titleY":323,"labelFont":"Liberation Sans","labelFontSize":18,"labelFontWeight":"bold","labelColor":"#111","labelPadding":7,"tickSize":9}},"fill":{"field":"c","type":"nominal","scale":{"domain":["Vegetation cover","Partially covered","Bare soil"],"range":["#000000","#7a7a7a","#ffffff"]},"legend":{"orient":"none","legendX":4,"legendY":493,"title":null,"labelFont":"Liberation Serif","labelFontSize":21,"labelColor":"#111","labelOffset":24,"symbolSize":240,"symbolStrokeColor":"#000","symbolStrokeWidth":1,"rowPadding":4.5,"symbolType":"circle"}}}},
{"data":{"values":[{"x":15,"y":46.36},{"x":42.87,"y":10}]},"mark":{"type":"line","color":"#222","strokeWidth":1},"encoding":{"x":{"field":"x","type":"quantitative"},"y":{"field":"y","type":"quantitative"}}},
{"data":{"name":"notesA"},"mark":{"type":"text","font":"Liberation Serif","fontSize":20.5,"align":"left","baseline":"middle","color":"#111"},"encoding":{"x":{"field":"x","type":"quantitative"},"y":{"field":"y","type":"quantitative"},"text":{"field":"t"}}},
{"data":{"values":[{"x":11.1,"y":52.8,"t":"(a)"}]},"mark":{"type":"text","font":"Liberation Serif","fontSize":26,"fontWeight":"bold","align":"center","baseline":"middle","color":"#000"},"encoding":{"x":{"field":"x","type":"quantitative"},"y":{"field":"y","type":"quantitative"},"text":{"field":"t"}}}
],"resolve":{"legend":{"fill":"independent"}}},
{"width":562,"height":558,"layer":[
{"data":{"name":"bands"},"mark":{"type":"area","opacity":1,"interpolate":"linear"},"encoding":{"x":{"field":"x","type":"quantitative","scale":{"domain":[-5.27,0,20,40,60,80,100,102.4],"range":[0,27.9,133.7,240,337.1,445.3,549.2,562],"zero":false,"nice":false},"axis":{"values":[0,20,40,60,80,100],"title":"NDVI (Normalized)","titleFont":"Liberation Serif","titleFontSize":23,"titleFontWeight":"bold","titleColor":"#111","titleX":303,"titleY":59,"labelFont":"Liberation Serif","labelFontSize":17,"labelColor":"#222","labelPadding":3,"tickSize":19,"labelFlush":false}},"y":{"field":"y","type":"quantitative","scale":{"domain":[-3.2,0,20,40,60,80,100,107.4],"range":[558,541,435,341,236,130,35,0],"zero":false,"nice":false},"axis":{"values":[0,20,40,60,80,100],"title":"Albedo (Normalized)","titleFont":"Liberation Serif","titleFontSize":23,"titleFontWeight":"bold","titleColor":"#111","titleX":-35,"titleY":307,"labelFont":"Liberation Serif","labelFontSize":17,"labelColor":"#333","labelPadding":-4,"labelAngle":-90,"labelAlign":"center","labelBaseline":"bottom","tickSize":17}},"y2":{"field":"y2"},"color":{"field":"c","type":"nominal","scale":{"domain":["Tail","Extreme","Severe","Moderate","Low","Null"],"range":["#b4b4b4","#d8d8d8","#9c9c9c","#707070","#474747","#000000"]},"legend":null}}},
{"data":{"name":"gaps"},"mark":{"type":"line","color":"#fff","strokeWidth":1.3,"interpolate":"monotone"},"encoding":{"x":{"field":"x","type":"quantitative"},"y":{"field":"y","type":"quantitative"},"detail":{"field":"g"},"order":{"field":"y","type":"quantitative"}}},
{"data":{"name":"pb"},"transform":[{"filter":"datum.c !== 'Null'"}],"mark":{"type":"point","filled":false,"strokeWidth":1.4,"size":42,"opacity":1},"encoding":{"x":{"field":"x","type":"quantitative"},"y":{"field":"y","type":"quantitative"},"color":{"field":"c","type":"nominal","legend":null},"shape":{"field":"c","type":"nominal","scale":{"domain":["Extreme","Severe","Moderate","Low"],"range":["diamond","M-1,-1L1,1M-1,1L1,-1","M-1,0L1,0M0,-1L0,1","triangle-up"]},"legend":null}}},
{"data":{"name":"pb"},"transform":[{"filter":"datum.c === 'Null'"}],"mark":{"type":"point","shape":"diamond","filled":true,"size":36,"opacity":1,"color":"#222"},"encoding":{"x":{"field":"x","type":"quantitative"},"y":{"field":"y","type":"quantitative"}}},
{"data":{"name":"leaders"},"mark":{"type":"rule","color":"#222","strokeWidth":1.2},"encoding":{"x":{"field":"x","type":"quantitative"},"y":{"field":"y","type":"quantitative"},"y2":{"field":"y2"}}},
{"data":{"name":"labelsB"},"mark":{"type":"text","font":"Liberation Serif","fontSize":23,"align":"center","baseline":"middle","color":"#111"},"encoding":{"x":{"field":"x","type":"quantitative"},"y":{"field":"y","type":"quantitative"},"text":{"field":"t"}}},
{"data":{"values":[{"x":0.4,"y":101.5,"t":"(b)"}]},"mark":{"type":"text","font":"Liberation Serif","fontSize":26,"fontWeight":"bold","align":"center","baseline":"middle","color":"#000"},"encoding":{"x":{"field":"x","type":"quantitative"},"y":{"field":"y","type":"quantitative"},"text":{"field":"t"}}}
]}
]}
